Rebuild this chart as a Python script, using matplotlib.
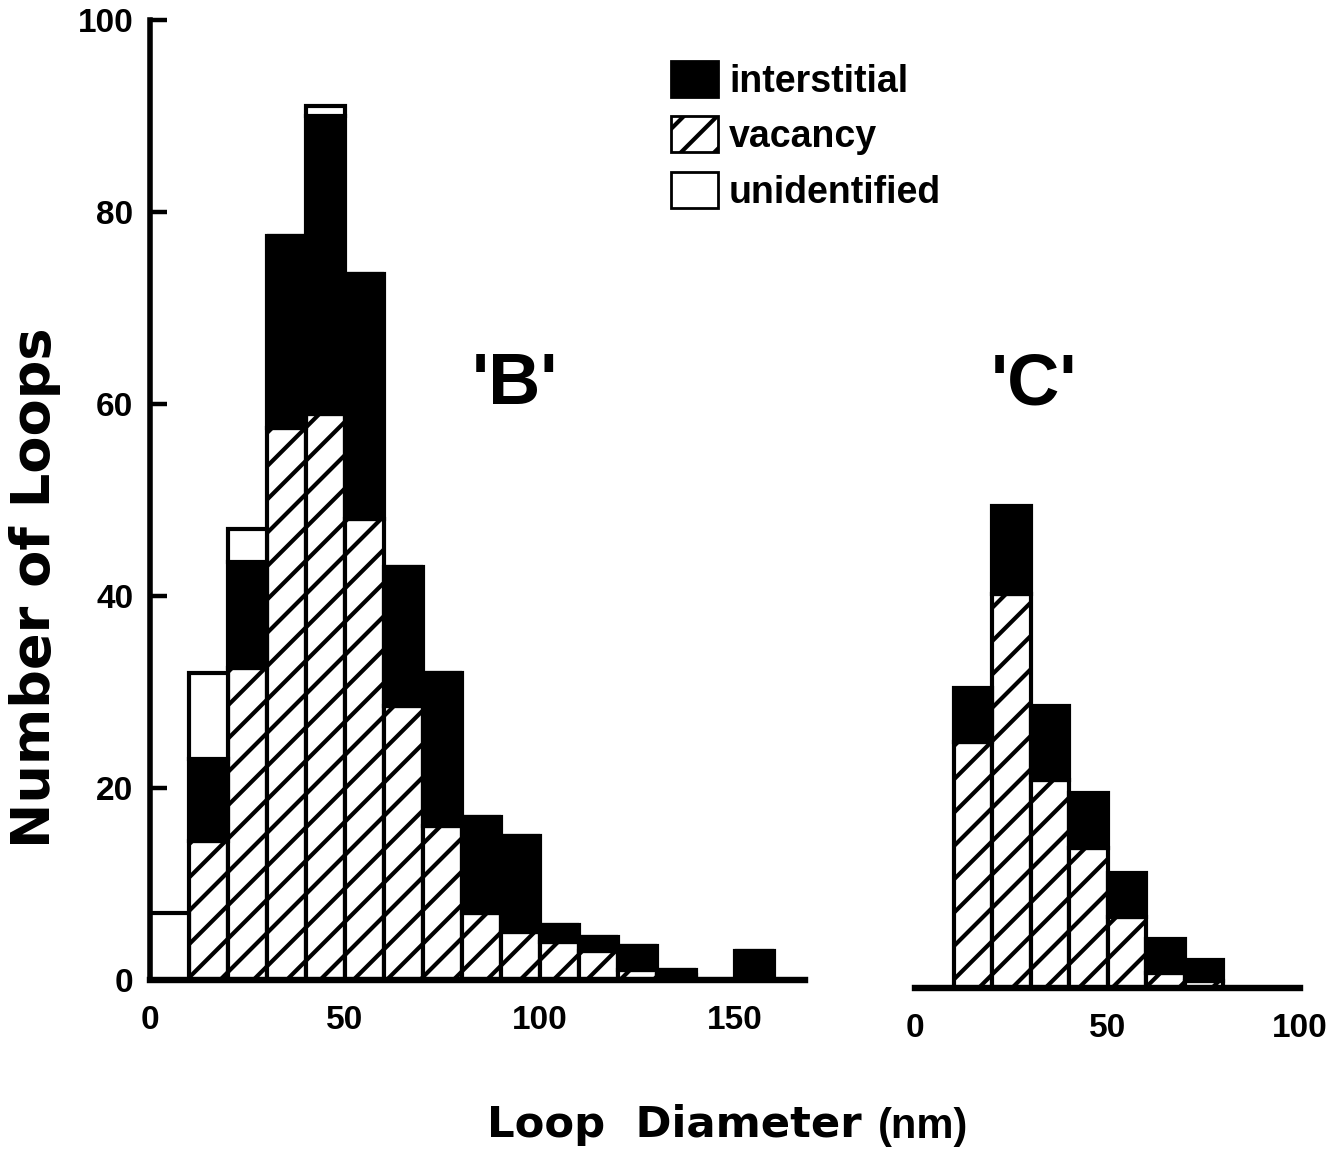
"""Loop size distributions for regions 'B' and 'C' (stacked histograms)."""

import matplotlib

matplotlib.use("Agg")
import matplotlib.pyplot as plt
import numpy as np
from matplotlib.patches import Patch

# region 'B': 10 nm bins starting at 0
B_EDGES = np.arange(0, 170, 10)
B_VACANCY = [0, 14.5, 32.5, 57.5, 59, 48, 28.5, 16, 7, 5, 4, 3, 1, 0.5, 0, 0, 0]
B_INTERSTITIAL = [0, 8.5, 11, 20, 31, 25.5, 14.5, 16, 10, 10, 1.7, 1.5, 2.5, 0.5, 0, 3, 0]
B_UNIDENTIFIED = [7, 9, 3.5, 0, 1, 0, 0, 0, 0, 0, 0, 0, 0, 0, 0, 0, 0]

# region 'C'
C_EDGES = np.arange(10, 80, 10)
C_VACANCY = [25.6, 41, 21.7, 14.6, 7.4, 1.6, 0.7]
C_INTERSTITIAL = [5.7, 9.2, 7.7, 5.7, 4.6, 3.5, 2.2]

LABELS = ("interstitial", "vacancy", "unidentified")
NARROW = ["Liberation Sans Narrow", "Liberation Sans", "DejaVu Sans"]
WIDE = ["Liberation Sans", "DejaVu Sans"]
BROAD = ["DejaVu Sans"]

plt.rcParams["hatch.linewidth"] = 1.5
W, H, DPI = 1333, 1152, 200


def stack(axis, edges, layers):
    bottom = np.zeros(len(edges))
    styles = (
        dict(facecolor="white", hatch="//"),
        dict(facecolor="black"),
        dict(facecolor="white"),
    )
    for values, style in zip(layers, styles):
        values = np.asarray(values, dtype=float)
        axis.bar(edges, values, width=10, bottom=bottom, align="edge",
                 edgecolor="black", linewidth=1.5, **style)
        bottom += values


fig = plt.figure(figsize=(W / DPI, H / DPI), dpi=DPI)
ax_b = fig.add_axes([150 / W, 172 / H, 655 / W, 960 / H])
ax_c = fig.add_axes([915 / W, 164 / H, 385 / W, 960 / H])

stack(ax_b, B_EDGES, (B_VACANCY, B_INTERSTITIAL, B_UNIDENTIFIED))
stack(ax_c, C_EDGES, (C_VACANCY, C_INTERSTITIAL))

ax_b.set_xlim(0, 168)
ax_b.set_ylim(0, 100)
ax_b.set_xticks([0, 50, 100, 150])
ax_b.set_yticks(range(0, 101, 20))
ax_b.spines[["top", "right"]].set_visible(False)
ax_b.spines["left"].set_linewidth(2.0)
ax_b.spines["bottom"].set_linewidth(2.3)
ax_b.tick_params(axis="y", direction="in", length=6, width=1.6, pad=6)
ax_b.tick_params(axis="x", length=0, pad=9)

ax_c.set_xlim(0, 100)
ax_c.set_ylim(0, 100)
ax_c.set_xticks([0, 50, 100])
ax_c.set_yticks([])
ax_c.spines[["top", "right", "left"]].set_visible(False)
ax_c.spines["bottom"].set_linewidth(2.3)
ax_c.tick_params(axis="x", length=0, pad=9)

for axis in (ax_b, ax_c):
    for label in axis.get_xticklabels() + axis.get_yticklabels():
        label.set_family(NARROW)
        label.set_fontweight("bold")
        label.set_fontsize(12)

ax_b.text(93.5, 62, "'B'", ha="center", va="center", fontsize=26,
          fontweight="bold", family=WIDE)
ax_c.text(31, 62.8, "'C'", ha="center", va="center", fontsize=26,
          fontweight="bold", family=WIDE)

handles = [
    Patch(facecolor="black", edgecolor="black"),
    Patch(facecolor="white", edgecolor="black", hatch="//"),
    Patch(facecolor="white", edgecolor="black"),
]
fig.legend(handles, LABELS, loc="upper left", bbox_to_anchor=(652 / W, 1 - 42 / H),
           frameon=False, borderpad=0, handlelength=1.25, handleheight=1.1,
           handletextpad=0.3, labelspacing=0.45,
           prop=dict(family=WIDE, weight="bold", size=13.5))

fig.text(35 / W, 1 - 588 / H, "Number of Loops", rotation=90, ha="center",
         va="center", fontsize=19.5, fontweight="bold", family=BROAD)
fig.text(487 / W, 1 - 1125 / H, "Loop  Diameter", ha="left", va="center",
         fontsize=15.6, fontweight="bold", family=BROAD)
fig.text(878 / W, 1 - 1127 / H, "(nm)", ha="left", va="center",
         fontsize=15, fontweight="bold", family=WIDE)

fig.savefig("out.png", dpi=DPI)
plt.close(fig)
